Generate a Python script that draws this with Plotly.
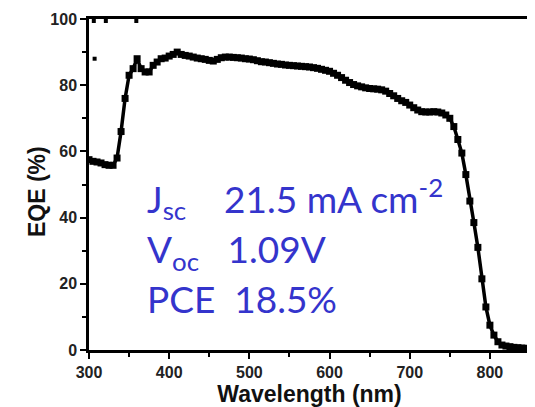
import plotly.graph_objects as go

wavelength = [300, 305, 310, 315, 320, 325, 330, 335, 340, 345, 350, 355, 360, 365, 370, 375, 380, 385, 390, 395,
              400, 405, 410, 415, 420, 425, 430, 435, 440, 445, 450, 455, 460, 465, 470, 475, 480, 485, 490, 495,
              500, 505, 510, 515, 520, 525, 530, 535, 540, 545, 550, 555, 560, 565, 570, 575, 580, 585, 590, 595,
              600, 605, 610, 615, 620, 625, 630, 635, 640, 645, 650, 655, 660, 665, 670, 675, 680, 685, 690, 695,
              700, 705, 710, 715, 720, 725, 730, 735, 740, 745, 750, 755, 760, 765, 770, 775, 780, 785, 790, 795,
              800, 805, 810, 815, 820, 825, 830, 835, 840, 845, 850]
eqe = [57.5, 57.0, 56.8, 56.5, 56.0, 55.8, 55.8, 58.0, 66.0, 76.0, 83.0, 85.0, 88.0, 85.0, 84.0, 84.0, 86.0, 87.0, 88.0, 88.2,
       88.8, 89.3, 90.0, 89.3, 89.0, 88.8, 88.5, 88.2, 88.0, 87.8, 87.5, 87.3, 87.8, 88.3, 88.5, 88.5, 88.4, 88.3, 88.2, 88.0,
       87.9, 87.7, 87.4, 87.1, 87.0, 86.8, 86.6, 86.4, 86.3, 86.1, 86.0, 85.9, 85.8, 85.7, 85.6, 85.5, 85.3, 85.1, 84.8, 84.5,
       84.2, 83.6, 83.0, 82.3, 81.5, 80.8, 80.2, 79.8, 79.5, 79.2, 79.0, 78.9, 78.8, 78.6, 78.2, 77.5, 76.8, 76.0, 75.3, 74.8,
       74.0, 73.2, 72.5, 72.0, 71.9, 71.9, 72.0, 71.9, 71.6, 71.0, 70.0, 67.5, 63.6, 59.5, 53.0, 45.0, 38.5, 31.0, 21.5, 13.0,
       7.5, 4.5, 2.5, 1.5, 1.2, 1.0, 0.8, 0.7, 0.6, 0.5, 0.5]

stray_wl = [306, 321, 359, 307]
stray_eqe = [99.4, 99.4, 99.4, 88.0]

x_ticks = [300, 400, 500, 600, 700, 800]
y_ticks = [0, 20, 40, 60, 80, 100]

notes = [
    ("J<sub>sc</sub>\u00a0\u00a0\u00a0\u00a021.5 mA cm<sup>-2</sup>", 45.7),
    ("V<sub>oc</sub>\u00a0\u00a0\u00a01.09V", 29.7),
    ("PCE\u00a0\u00a018.5%", 15.5),
]
note_x = 370
blue = "#3434cc"

fig = go.Figure()
fig.add_trace(go.Scatter(x=wavelength, y=eqe, mode="lines+markers",
                         line=dict(color="black", width=3.5),
                         marker=dict(symbol="square", size=7, color="black"),
                         showlegend=False))
fig.add_trace(go.Scatter(x=stray_wl, y=stray_eqe, mode="markers",
                         marker=dict(symbol="square", size=4, color="black"),
                         showlegend=False))

for txt, yv in notes:
    fig.add_annotation(x=note_x, y=yv, xref="x", yref="y", text=txt, showarrow=False,
                       xanchor="left", yanchor="middle",
                       font=dict(family="Lato", size=37, color=blue))

# y-axis title placed as a rotated text
fig.add_annotation(x=-0.118, y=0.48, xref="paper", yref="paper", text="EQE (%)",
                   showarrow=False, textangle=-90, xanchor="center", yanchor="middle",
                   font=dict(family="Liberation Sans", size=23, color="#111", weight="bold"))

axis_common = dict(showline=True, linecolor="black", linewidth=2.5, mirror=True,
                   ticks="outside", tickcolor="black", tickwidth=2, ticklen=6,
                   showgrid=False, zeroline=False, automargin=False,
                   tickfont=dict(family="Liberation Sans", size=16, color="#222", weight="bold"))

fig.update_xaxes(range=[300, 850], tickvals=x_ticks,
                 minor=dict(dtick=50, tick0=350, ticks="outside", ticklen=4, tickwidth=2, tickcolor="black"),
                 title=dict(text="Wavelength (nm)", standoff=4,
                            font=dict(family="Liberation Sans", size=23, color="#111", weight="bold")),
                 **axis_common)
fig.update_yaxes(range=[0, 100], tickvals=y_ticks,
                 minor=dict(dtick=10, tick0=10, ticks="outside", ticklen=4, tickwidth=2, tickcolor="black"),
                 **axis_common)

# the page body adds an 8 px offset, so the figure is drawn 8 px smaller
fig.update_layout(width=527, height=399, margin=dict(l=81, r=5, t=11, b=57),
                  plot_bgcolor="white", paper_bgcolor="white")

fig.write_html("out.html")
